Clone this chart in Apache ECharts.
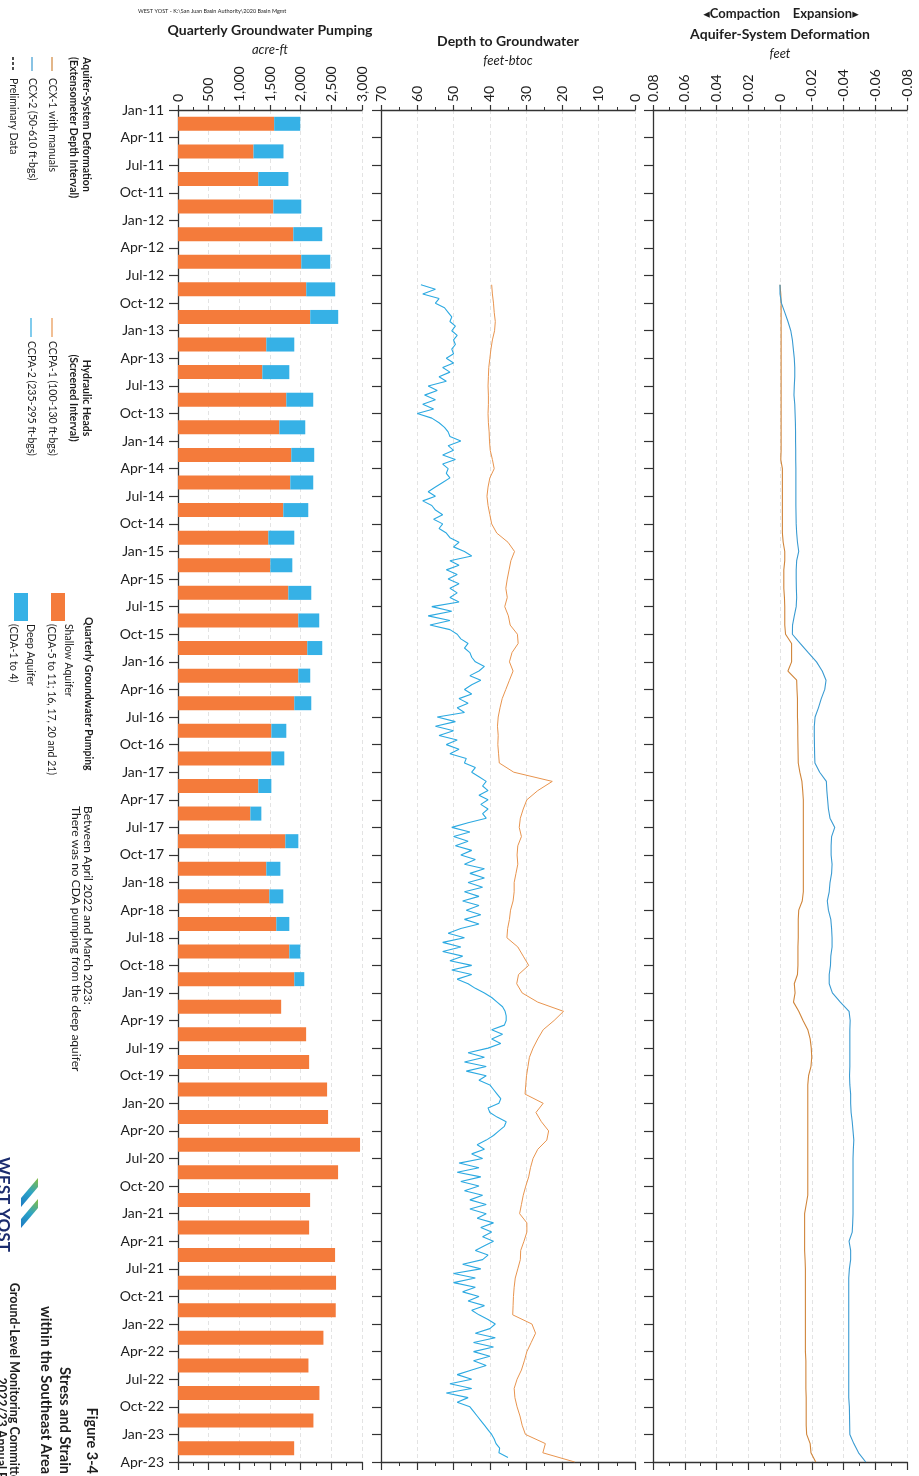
<!DOCTYPE html>
<html><head><meta charset="utf-8">
<script src="https://cdn.jsdelivr.net/npm/echarts@6/dist/echarts.min.js"></script>
<style>html,body{margin:0;padding:0;background:#fff;}#c{width:919px;height:1476px;}</style>
</head><body><div id="c"></div>
<script>
// ---------------- DATA ----------------
const quarterTickLabels = [
 'Jan-11','Apr-11','Jul-11','Oct-11','Jan-12','Apr-12','Jul-12','Oct-12',
 'Jan-13','Apr-13','Jul-13','Oct-13','Jan-14','Apr-14','Jul-14','Oct-14',
 'Jan-15','Apr-15','Jul-15','Oct-15','Jan-16','Apr-16','Jul-16','Oct-16',
 'Jan-17','Apr-17','Jul-17','Oct-17','Jan-18','Apr-18','Jul-18','Oct-18',
 'Jan-19','Apr-19','Jul-19','Oct-19','Jan-20','Apr-20','Jul-20','Oct-20',
 'Jan-21','Apr-21','Jul-21','Oct-21','Jan-22','Apr-22','Jul-22','Oct-22',
 'Jan-23','Apr-23'];

const pumpQuarters = [
 'Q1-11','Q2-11','Q3-11','Q4-11','Q1-12','Q2-12','Q3-12','Q4-12',
 'Q1-13','Q2-13','Q3-13','Q4-13','Q1-14','Q2-14','Q3-14','Q4-14',
 'Q1-15','Q2-15','Q3-15','Q4-15','Q1-16','Q2-16','Q3-16','Q4-16',
 'Q1-17','Q2-17','Q3-17','Q4-17','Q1-18','Q2-18','Q3-18','Q4-18',
 'Q1-19','Q2-19','Q3-19','Q4-19','Q1-20','Q2-20','Q3-20','Q4-20',
 'Q1-21','Q2-21','Q3-21','Q4-21','Q1-22','Q2-22','Q3-22','Q4-22','Q1-23'];

// acre-ft per quarter
const shallowPumping = [1568,1231,1310,1555,1880,2010,2091,2156,1440,1375,
 1766,1652,1847,1831,1717,1473,1506,1799,1962,2108,
 1962,1896,1522,1522,1310,1180,1750,1440,1489,1603,
 1815,1896,1682,2089,2138,2431,2447,2968,2610,2154,
 2138,2561,2577,2572,2371,2127,2306,2208,1894];
const deepPumping = [425,489,490,455,472,472,472,456,456,440,
 439,423,374,374,407,423,358,374,341,244,
 194,277,244,211,212,179,212,229,228,212,
 179,163,0,0,0,0,0,0,0,0,
 0,0,0,0,0,0,0,0,0];

// Line records start August 2012
const recordStartYear = 2012, recordStartMonth = 8;

// CCPA-1 depth to groundwater, feet-btoc, monthly
const ccpa1Depth = [
 39.5,39.3,39,38.8,38.5,38.7,39.3,39.7,40,40.3,
 40.4,40.5,40.4,40.4,40.5,40.4,40.2,40.1,39.9,39.3,
 38.8,40,40.5,40.8,40.5,40,39.5,38.1,35,33.2,
 34.2,34.7,35.2,35.6,
 35.2,35.9,34.9,34.4,32.4,32.2,33.9,34.6,33.6,34.6,
 35.6,36.6,37.2,37.7,37.9,37.7,37.8,37.6,37.4,33.4,
 22.8,26.8,29.8,30.8,31.6,31.9,31.3,32.3,32.5,32.3,
 32.8,33.3,33.3,33.6,34.3,34.6,35.1,
 35.3,32.3,30.8,29.3,32.1,32.6,31.1,26.8,19.7,22.3,
 25.3,26.8,28.1,29.1,29.5,29.9,30.1,30.3,25.3,27.3,
 25.8,23.8,24.3,26.8,28.1,28.8,29.3,30.1,30.8,31.3,
 31.8,29.8,29.8,30.6,31.5,
 31.6,32.3,33,33.3,33.5,33.6,33.7,28.4,27.4,28.6,
 29.8,30.5,31.3,32.5,33.3,33.1,32.5,31.7,31.1,30.2,
 24.7,25.4,16.6];

// CCPA-2 depth to groundwater, feet-btoc, twice monthly
const ccpa2Depth = [
 59,55,58.5,54,55,52.5,51.5,50.5,51,49.5,
 50.5,49,50,49.5,50.5,50,52,50,53,51,
 54,52,57,54.5,58,55,58.5,55.5,60,56,
 54,52.5,51.5,51,48,51.5,50,53,49.5,53,
 51.5,52,51,53,55,57,55,58.5,56,55,
 53,55.5,53,54,52,51,48.5,50,47,45,
 51,48.5,52,49,51.5,48.5,51,49,51,48.5,
 56,50.5,57,51,56.5,51,49,48,46,47,
 45.5,45,44,41.5,43,45.5,42.5,45,47,45,
 48.5,46,49,47,54.5,49.5,55,50,54,49,
 52,48.5,51,46.5,47,44,45,43,41,42,
 40.5,43,40.5,42.5,40.5,42,41,46,50.5,45.5,
 50,46,49.5,45,48,44,47,41.5,45.5,41.5,
 46,42,47,43,47.5,43,46.5,42.5,47,43,
 48,51.5,47,53,48,53,47.5,51,45,50.5,
 45,49,46,44,41.5,39.5,38,36.5,35.8,35.5,
 35.5,36,39.5,36.5,39.5,37,40.5,46,41.5,47,
 41,46.5,41,43,40,39,38,37,37.5,40.5,
 40,38,35.5,36,37.5,39,41,43.5,41.5,45,
 42,48.5,43,49,42.5,48,43,47,42,45.5,
 41,45.5,41,43.5,39,42.5,39.5,42,39,41.5,
 44,40.5,42,47.5,42.5,50,44,50,44,47.5,
 43,46,41.5,45,43,40.5,38.5,40,44,38.5,
 44.5,39,44.5,40,44.5,41,45,49,45,51,
 45,52,46,49,45.5,44.5,43.5,42.5,41.5,40.5,
 39.5,38.8,38.3,37.3,37.5,35];

// CCX-1 deformation, feet, monthly
const ccx1Deform = [
 0,-0.0005,-0.0007,-0.0007,-0.0007,-0.0007,-0.0007,-0.0007,-0.0007,-0.0007,
 -0.0007,-0.0007,-0.0007,-0.0007,-0.0007,-0.0007,-0.0007,-0.0007,-0.0007,-0.0005,
 -0.0015,-0.0015,-0.0015,-0.0015,-0.0015,-0.0015,-0.0015,-0.0015,-0.002,-0.003,
 -0.003,-0.0024,-0.0024,-0.0024,
 -0.0028,-0.003,-0.003,-0.003,-0.0035,-0.0073,-0.0073,-0.0073,-0.005,-0.0105,
 -0.0107,-0.011,-0.011,-0.011,-0.0112,-0.0112,-0.0113,-0.0114,-0.0115,-0.0125,
 -0.0138,-0.0143,-0.0147,-0.0147,-0.0147,-0.0147,-0.0147,-0.0147,-0.0147,-0.0147,
 -0.0147,-0.0147,-0.0147,-0.014,-0.0118,-0.0115,-0.0115,
 -0.0115,-0.0113,-0.0113,-0.0113,-0.011,-0.009,-0.0095,-0.0085,-0.0118,-0.0145,
 -0.0175,-0.019,-0.0197,-0.02,-0.0195,-0.018,-0.0175,-0.0175,-0.0175,-0.0175,
 -0.0175,-0.0175,-0.0175,-0.0175,-0.0175,-0.0175,-0.0175,-0.0175,-0.0175,-0.0165,
 -0.0155,-0.0155,-0.0155,-0.0155,-0.0155,
 -0.0158,-0.016,-0.016,-0.016,-0.016,-0.016,-0.016,-0.016,-0.016,-0.016,
 -0.016,-0.0163,-0.0163,-0.0163,-0.0163,-0.0165,-0.0165,-0.0165,-0.0165,-0.0168,
 -0.019,-0.0195,-0.0225];

// CCX-2 deformation, feet, monthly
const ccx2Deform = [
 0,0,-0.0009,-0.003,-0.005,-0.0068,-0.0078,-0.0084,-0.009,-0.0093,
 -0.0093,-0.009,-0.0088,-0.0093,-0.0095,-0.0097,-0.0098,-0.0098,-0.0099,-0.0099,
 -0.01,-0.01,-0.01,-0.01,-0.01,-0.0101,-0.0102,-0.0105,-0.011,-0.0118,
 -0.0105,-0.0102,-0.0102,-0.0103,
 -0.0105,-0.0102,-0.009,-0.0079,-0.0078,-0.0127,-0.0178,-0.023,-0.0266,-0.029,
 -0.0282,-0.026,-0.0242,-0.0221,-0.0216,-0.0216,-0.0217,-0.0218,-0.022,-0.025,
 -0.0292,-0.0295,-0.03,-0.0305,-0.0315,-0.0345,-0.0325,-0.0322,-0.0322,-0.0328,
 -0.0325,-0.0315,-0.031,-0.0298,-0.0305,-0.032,-0.0325,
 -0.0328,-0.0328,-0.032,-0.0318,-0.031,-0.031,-0.033,-0.038,-0.0435,-0.0442,
 -0.044,-0.044,-0.044,-0.044,-0.044,-0.0438,-0.044,-0.0445,-0.0445,-0.0448,
 -0.0455,-0.046,-0.0465,-0.0462,-0.046,-0.046,-0.046,-0.046,-0.046,-0.046,
 -0.046,-0.0458,-0.0455,-0.0435,-0.0445,
 -0.0445,-0.0437,-0.0433,-0.0433,-0.0433,-0.0433,-0.0433,-0.0433,-0.0433,-0.0433,
 -0.0433,-0.0433,-0.0433,-0.0433,-0.0433,-0.0433,-0.0437,-0.0438,-0.0439,-0.044,
 -0.0465,-0.0495,-0.054];

// ---------------- BUILD ----------------
const FONT = "Lato, 'DejaVu Sans', sans-serif";
const AX = '#333333';
const qStart = (recordStartYear - 2011) * 4 + (recordStartMonth - 1) / 3;
const monthly = arr => arr.map((v, i) => [v, qStart + i / 3]);
const semiMonthly = arr => arr.map((v, i) => [v, qStart + i / 6]);

const GT = 110, GH = 1352;
const grids = [
  {left: 178, top: GT, width: 184, height: GH},
  {left: 381, top: GT, width: 254, height: GH},
  {left: 653, top: GT, width: 254, height: GH}
].map(g => Object.assign(g, {containLabel: false, outerBoundsMode: 'none'}));

const labelBase = {fontFamily: FONT, fontSize: 14, color: '#1e1e1e', hideOverlap: false,
  showMinLabel: true, showMaxLabel: true};

function topAxis(gi, min, max, interval, inverse, fmt) {
  return {gridIndex: gi, type: 'value', position: 'top', min, max, interval, inverse,
    axisLine: {show: true, onZero: false, lineStyle: {color: AX, width: 1.3}},
    axisTick: {show: true, length: 5, lineStyle: {color: AX, width: 1.2}},
    minorTick: {show: true, splitNumber: 2, length: 3, lineStyle: {color: AX, width: 1}},
    axisLabel: Object.assign({}, labelBase, {rotate: -90, margin: 8, formatter: fmt}),
    splitLine: {show: true, lineStyle: {color: '#e3e3e3', type: [4, 3], width: 1}},
    minorSplitLine: {show: false}};
}
function bottomAxis(gi, min, max, interval, inverse) {
  return {gridIndex: gi, type: 'value', position: 'bottom', min, max, interval, inverse,
    axisLine: {show: true, onZero: false, lineStyle: {color: AX, width: 1.3}},
    axisTick: {show: true, length: 8, lineStyle: {color: AX, width: 1.2}},
    minorTick: {show: true, splitNumber: 2, length: 4, lineStyle: {color: AX, width: 1}},
    axisLabel: {show: false}, splitLine: {show: false}};
}
function timeAxis(gi, withLabels) {
  return {gridIndex: gi, type: 'value', position: 'left', min: 0, max: 49, interval: 1, inverse: true,
    axisLine: {show: true, onZero: false, lineStyle: {color: AX, width: 1.3}},
    axisTick: {show: true, length: 9, lineStyle: {color: AX, width: 1.2}},
    axisLabel: withLabels ? Object.assign({}, labelBase, {margin: 14,
      formatter: v => quarterTickLabels[Math.round(v)] || ''}) : {show: false},
    splitLine: {show: false}};
}

const fmtThousands = v => v.toLocaleString('en-US');
const fmtDeform = v => Math.abs(v) < 1e-9 ? '0' : v.toFixed(2);

const xAxis = [
  topAxis(0, 0, 3000, 500, false, fmtThousands),
  bottomAxis(0, 0, 3000, 500, false),
  topAxis(1, 0, 70, 10, true, v => String(v)),
  bottomAxis(1, 0, 70, 10, true),
  topAxis(2, -0.08, 0.08, 0.02, true, fmtDeform),
  bottomAxis(2, -0.08, 0.08, 0.02, true)
];
const yAxis = [
  timeAxis(0, true),
  {gridIndex: 0, type: 'category', data: pumpQuarters, inverse: true, show: false, position: 'left', boundaryGap: true},
  timeAxis(1, false),
  timeAxis(2, false)
];

const C_SHALLOW = '#F47B3B', C_DEEP = '#36B1E6';
const C_O_LINE = '#E8944E', C_B_LINE = '#2CA9E1';
const C_O_DEF = '#D0853A', C_B_DEF = '#3A9BD2';

const series = [
  {type: 'bar', name: 'Shallow Aquifer', xAxisIndex: 0, yAxisIndex: 1, stack: 'pump', barWidth: 14,
   itemStyle: {color: C_SHALLOW}, data: shallowPumping, silent: true},
  {type: 'bar', name: 'Deep Aquifer', xAxisIndex: 0, yAxisIndex: 1, stack: 'pump', barWidth: 14,
   itemStyle: {color: C_DEEP}, data: deepPumping, silent: true},
  {type: 'line', name: 'CCPA-1', xAxisIndex: 2, yAxisIndex: 2, showSymbol: false, symbol: 'none',
   lineStyle: {color: C_O_LINE, width: 1}, data: monthly(ccpa1Depth)},
  {type: 'line', name: 'CCPA-2', xAxisIndex: 2, yAxisIndex: 2, showSymbol: false, symbol: 'none',
   lineStyle: {color: C_B_LINE, width: 1.1}, data: semiMonthly(ccpa2Depth)},
  {type: 'line', name: 'CCX-1', xAxisIndex: 4, yAxisIndex: 3, showSymbol: false, symbol: 'none',
   lineStyle: {color: C_O_DEF, width: 1.1}, data: monthly(ccx1Deform)},
  {type: 'line', name: 'CCX-2', xAxisIndex: 4, yAxisIndex: 3, showSymbol: false, symbol: 'none',
   lineStyle: {color: C_B_DEF, width: 1.1}, data: monthly(ccx2Deform)}
];

// ---------------- GRAPHIC TEXT ----------------
const TXT = '#1e1e1e';
function htext(x, y, text, font, align) {
  return {type: 'text', x, y, silent: true, style: {text, font, fill: TXT,
    align: align || 'center', verticalAlign: 'middle', textAlign: align || 'center', textVerticalAlign: 'middle'}};
}
function rtext(x, y, text, font, align, fill) {
  return {type: 'text', x, y, rotation: -Math.PI / 2, silent: true,
    style: {text, font, fill: fill || TXT, align: align || 'left', verticalAlign: 'middle',
      textAlign: align || 'left', textVerticalAlign: 'middle'}};
}
function vline(x, y1, y2, color, dash, w) {
  return {type: 'line', silent: true, shape: {x1: x, y1, x2: x, y2},
    style: {stroke: color, lineWidth: w || 1.2, lineDash: dash || null}};
}
const B = s => 'bold ' + s + 'px ' + FONT;
const N = s => s + 'px ' + FONT;
const I = s => 'italic ' + s + 'px ' + FONT;

const logoFill = new echarts.graphic.LinearGradient(0, 1, 1, 0, [
  {offset: 0, color: '#1C78C2'}, {offset: 0.5, color: '#2BA3C8'}, {offset: 1, color: '#86BE3F'}]);

const graphics = [
  htext(138, 11, 'WEST YOST - K:\\San Juan Basin Authority\\2020 Basin Mgmt', N(5.5), 'left'),
  htext(270, 30, 'Quarterly Groundwater Pumping', B(14)),
  htext(270, 50, 'acre-ft', I(13)),
  htext(508, 41, 'Depth to Groundwater', B(14)),
  htext(508, 61, 'feet-btoc', I(13)),
  htext(781, 14, '\u25C2Compaction    Expansion\u25B8', B(13)),
  htext(780, 34, 'Aquifer-System Deformation', B(14)),
  htext(780, 54, 'feet', I(13)),

  // Legend: deformation
  rtext(86, 57, 'Aquifer-System Deformation', B(10.5)),
  rtext(73, 57, '(Extensometer Depth Interval)', B(10.5)),
  vline(52, 57, 71, C_O_DEF, null, 1.2),
  rtext(52, 78, 'CCX-1 with manuals', N(10.5)),
  vline(32, 57, 71, C_B_DEF, null, 1.2),
  rtext(32, 78, 'CCX-2 (50-610 ft-bgs)', N(10.5)),
  vline(13, 57, 72, '#222', [3, 2], 1.6),
  rtext(13, 78, 'Preliminary Data', N(10.5)),

  // Legend: hydraulic heads
  rtext(86, 398, 'Hydraulic Heads', B(10.5), 'center'),
  rtext(73, 398, '(Screened Interval)', B(10.5), 'center'),
  vline(52, 318, 337, C_O_LINE, null, 1.2),
  rtext(52, 341, 'CCPA-1 (100-130 ft-bgs)', N(10.5)),
  vline(31, 318, 337, C_B_LINE, null, 1.2),
  rtext(31, 341, 'CCPA-2 (235-295 ft-bgs)', N(10.5)),

  // Legend: pumping
  rtext(88, 617, 'Quarterly Groundwater Pumping', B(10.5)),
  {type: 'rect', silent: true, shape: {x: 51, y: 593, width: 14, height: 28}, style: {fill: C_SHALLOW}},
  rtext(68, 624, 'Shallow Aquifer', N(10.5)),
  rtext(51, 624, '(CDA-5 to 11; 16, 17, 20 and 21)', N(10.5)),
  {type: 'rect', silent: true, shape: {x: 14, y: 593, width: 14, height: 28}, style: {fill: C_DEEP}},
  rtext(30, 624, 'Deep Aquifer', N(10.5)),
  rtext(13, 624, '(CDA-1 to 4)', N(10.5)),
  rtext(88, 806, 'Between April 2022 and March 2023:', N(12)),
  rtext(76, 806, 'There was no CDA pumping from the deep aquifer', N(12)),

  // Logo + title block
  {type: 'polygon', silent: true, shape: {points: [[38, 1178], [38, 1187], [21, 1207], [21, 1198]]}, style: {fill: logoFill}},
  {type: 'polygon', silent: true, shape: {points: [[38, 1199], [38, 1208], [21, 1228], [21, 1219]]}, style: {fill: logoFill}},
  rtext(3, 1157, 'WEST YOST', B(17), 'left', '#1B2C6E'),
  rtext(92, 1474, 'Figure 3-4', B(14.5), 'right'),
  rtext(65, 1474, 'Stress and Strain', B(14.5), 'right'),
  rtext(46, 1474, 'within the Southeast Area', B(14.5), 'right'),
  rtext(14, 1488, 'Ground-Level Monitoring Committee', B(12.5), 'right'),
  rtext(1, 1510, '2022/23 Annual Report', B(12.5), 'right')
];

const chart = echarts.init(document.getElementById('c'), null, {renderer: 'canvas', width: 919, height: 1476});
chart.setOption({
  animation: false,
  backgroundColor: '#ffffff',
  textStyle: {fontFamily: FONT},
  grid: grids,
  xAxis, yAxis, series,
  graphic: {elements: graphics}
});
</script></body></html>
